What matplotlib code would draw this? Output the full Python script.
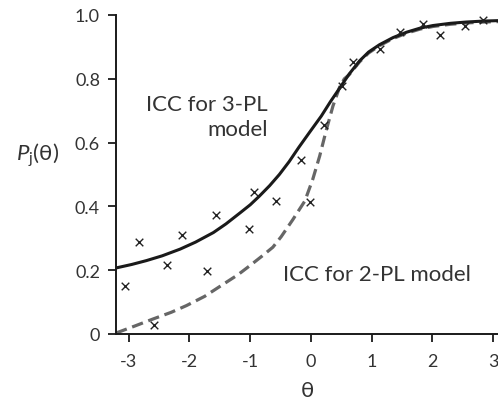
#	Item characteristic curves - 3-PL vs 2-PL model with observed proportions

import matplotlib
matplotlib.use("Agg")
import matplotlib.pyplot as plt

plt.rcParams['font.family'] = ['Lato', 'DejaVu Sans']
plt.rcParams['mathtext.fontset'] = 'custom'
plt.rcParams['mathtext.rm'] = 'Lato'
plt.rcParams['mathtext.it'] = 'Lato:italic'

# ICC for 3-PL model (solid)
theta3 = [-3.21, -2.95, -2.71, -2.45, -2.155, -1.9, -1.606, -1.4, -1.165, -1.0,
		  -0.85, -0.68, -0.52, -0.36, -0.2, -0.02, 0.17, 0.32, 0.47, 0.63,
		  0.8, 0.95, 1.13, 1.35, 1.574, 1.8, 2.01, 2.3, 2.56, 2.85, 3.2]
p3 = [0.207, 0.218, 0.230, 0.245, 0.266, 0.288, 0.318, 0.345, 0.380, 0.405,
	  0.432, 0.465, 0.500, 0.540, 0.585, 0.633, 0.683, 0.728, 0.770, 0.815,
	  0.856, 0.884, 0.907, 0.929, 0.946, 0.959, 0.967, 0.974, 0.978, 0.981, 0.983]

# ICC for 2-PL model (dashed)
theta2 = [-3.21, -2.9, -2.6, -2.3, -2.05, -1.75, -1.5, -1.2, -1.0, -0.8,
		  -0.627, -0.49, -0.3, -0.1, 0.03, 0.144, 0.254, 0.363, 0.474, 0.55,
		  0.63, 0.8, 0.95, 1.13, 1.35, 1.574, 1.8, 2.01, 2.3, 2.56, 2.85, 3.2]
p2 = [0.003, 0.025, 0.047, 0.068, 0.089, 0.118, 0.149, 0.186, 0.215, 0.245,
	  0.272, 0.305, 0.358, 0.417, 0.485, 0.558, 0.640, 0.715, 0.775, 0.800,
	  0.813, 0.853, 0.881, 0.904, 0.926, 0.943, 0.956, 0.964, 0.971, 0.975, 0.978, 0.980]

# observed proportions (crosses)
obsTheta = [-3.063, -2.838, -2.591, -2.370, -2.117, -1.716, -1.568, -1.028, -0.941, -0.571,
			-0.158, -0.021, 0.215, 0.512, 0.693, 1.134, 1.464, 1.848, 2.124, 2.541, 2.828]
obsP = [0.151, 0.289, 0.028, 0.217, 0.309, 0.198, 0.373, 0.330, 0.444, 0.418,
		0.546, 0.414, 0.655, 0.776, 0.853, 0.892, 0.947, 0.972, 0.937, 0.965, 0.984]

yticks = [0, 0.2, 0.4, 0.6, 0.8, 1.0]
yticklabels = ['0', '0.2', '0.4', '0.6', '0.8', '1.0']
xticks = [-3, -2, -1, 0, 1, 2, 3]

textColor = '#333333'

fig = plt.figure(figsize=(4.98, 4.06), dpi=100)
ax = fig.add_axes([0.2329, 0.1749, 0.7671, 0.7857])

ax.plot(theta2, p2, color='#666666', lw=2.3, dashes=(3.6, 1.8), zorder=2)
ax.plot(theta3, p3, color='#1a1a1a', lw=2.2, zorder=3)
ax.scatter(obsTheta, obsP, marker='x', s=30, color='#222222', linewidths=1.0, zorder=4)

ax.set_xlim(-3.21, 3.08)
ax.set_ylim(0, 1.0)
ax.set_xticks(xticks)
ax.set_xticklabels([str(t) for t in xticks])
ax.set_yticks(yticks)
ax.set_yticklabels(yticklabels)

for side in ['top', 'right']:
	ax.spines[side].set_visible(False)
for side in ['left', 'bottom']:
	ax.spines[side].set_linewidth(1.4)
	ax.spines[side].set_color('#1a1a1a')

ax.tick_params(axis='both', direction='out', length=5.5, width=1.3, color='#1a1a1a',
			   labelsize=13, labelcolor=textColor)
ax.tick_params(axis='y', pad=6)
ax.tick_params(axis='x', pad=8)

ax.set_xlabel('θ', fontsize=16, color=textColor, labelpad=8)
fig.text(38 / 498, 1 - 155 / 406, r'$P_{\mathrm{j}}$(θ)', fontsize=16, color=textColor,
		 ha='center', va='center')

ax.text(-0.71, 0.682, 'ICC for 3-PL\nmodel', fontsize=16, color=textColor,
		ha='right', va='center', multialignment='right', linespacing=1.3)
ax.text(1.084, 0.188, 'ICC for 2-PL model', fontsize=16, color=textColor,
		ha='center', va='center')

fig.savefig('out.png', dpi=100)
